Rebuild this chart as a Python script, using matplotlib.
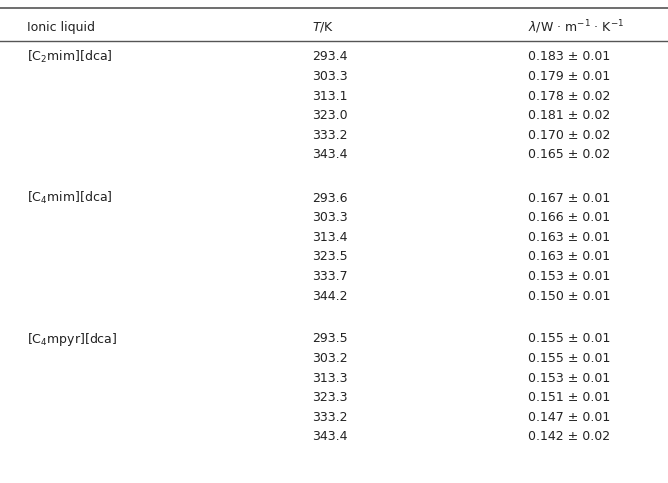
import matplotlib
matplotlib.use("Agg")
import matplotlib.pyplot as plt

liquids = ["[C$_2$mim][dca]", "[C$_4$mim][dca]", "[C$_4$mpyr][dca]"]
temps = [[293.4, 303.3, 313.1, 323.0, 333.2, 343.4],
         [293.6, 303.3, 313.4, 323.5, 333.7, 344.2],
         [293.5, 303.2, 313.3, 323.3, 333.2, 343.4]]
lam = [[0.183, 0.179, 0.178, 0.181, 0.170, 0.165],
       [0.167, 0.166, 0.163, 0.163, 0.153, 0.150],
       [0.155, 0.155, 0.153, 0.151, 0.147, 0.142]]
unc = [[0.01, 0.01, 0.02, 0.02, 0.02, 0.02],
       [0.01, 0.01, 0.01, 0.01, 0.01, 0.01],
       [0.01, 0.01, 0.01, 0.01, 0.01, 0.02]]

W, H = 668, 483
fig = plt.figure(figsize=(W/100, H/100), dpi=100)
ax = fig.add_axes([0, 0, 1, 1])
ax.set_xlim(0, W); ax.set_ylim(H, 0); ax.axis("off")
fs = 9
col = "#222222"
ax.plot([0, W], [8, 8], color="#555555", lw=1.2)
ax.plot([0, W], [41, 41], color="#555555", lw=1.0)
ax.text(27, 27, "Ionic liquid", fontsize=fs, va="center", color=col)
ax.text(312, 27, "$T$/K", fontsize=fs, va="center", color=col)
ax.text(528, 27, r"$\lambda$/W · m$^{-1}$ · K$^{-1}$", fontsize=fs, va="center", color=col)
starts = [57, 198, 339]
step = 19.6
for g, name in enumerate(liquids):
    y0 = starts[g]
    ax.text(27, y0, name, fontsize=fs, va="center", color=col)
    for i, (t, l, u) in enumerate(zip(temps[g], lam[g], unc[g])):
        y = y0 + i*step
        ax.text(312, y, f"{t:.1f}", fontsize=fs, va="center", color=col)
        ax.text(528, y, f"{l:.3f} ± {u:.2f}", fontsize=fs, va="center", color=col)
fig.savefig("out.png", dpi=100)
